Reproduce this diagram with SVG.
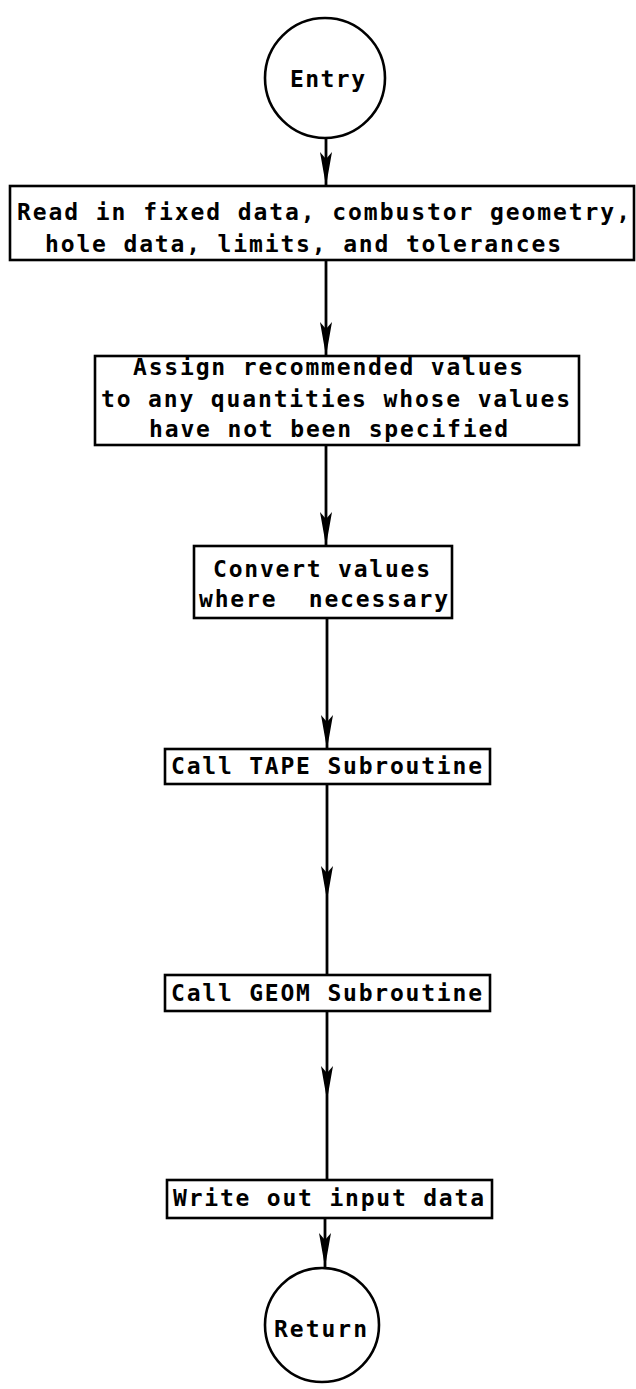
<svg xmlns="http://www.w3.org/2000/svg" width="636" height="1389" viewBox="0 0 636 1389">
  <style>
    .shape { fill: #ffffff; stroke: #000000; stroke-width: 2.6; }
    .wire { fill: none; stroke: #000000; stroke-width: 2.8; }
    .label { font-family: "DejaVu Sans Mono", "Liberation Mono", monospace; font-weight: bold; font-size: 23px; fill: #000000; }
  </style>
  <defs>
    <!-- long, narrow flow arrowhead -->
    <marker id="arrow" markerUnits="userSpaceOnUse" markerWidth="34" markerHeight="12" viewBox="0 0 34 12" refX="34" refY="6" orient="auto">
      <path d="M0,0 L34,6 L0,12 L7,6 z" fill="#000000"/>
    </marker>
  </defs>
  <rect width="636" height="1389" fill="#ffffff"/>

  <!-- connectors -->
  <g id="connectors">
    <line class="wire" x1="326" y1="139" x2="326" y2="186" marker-end="url(#arrow)"/>
    <line class="wire" x1="326" y1="260" x2="326" y2="356" marker-end="url(#arrow)"/>
    <line class="wire" x1="326" y1="445" x2="326" y2="546" marker-end="url(#arrow)"/>
    <line class="wire" x1="327" y1="618" x2="327" y2="749" marker-end="url(#arrow)"/>
    <line class="wire" x1="327" y1="784" x2="327" y2="900" marker-end="url(#arrow)"/>
    <line class="wire" x1="327" y1="900" x2="327" y2="975"/>
    <line class="wire" x1="327" y1="1011" x2="327" y2="1100" marker-end="url(#arrow)"/>
    <line class="wire" x1="327" y1="1100" x2="327" y2="1180"/>
    <line class="wire" x1="325" y1="1218" x2="325" y2="1267" marker-end="url(#arrow)"/>
  </g>

  <g id="entry">
    <circle class="shape" cx="325" cy="78" r="60"/>
    <text class="label" x="290" y="87" textLength="75" lengthAdjust="spacing">Entry</text>
  </g>

  <g id="read-input">
    <rect class="shape" x="10" y="186" width="624" height="74"/>
    <text class="label" x="17" y="220" textLength="613" lengthAdjust="spacing">Read in fixed data, combustor geometry,</text>
    <text class="label" x="45" y="252" textLength="516" lengthAdjust="spacing">hole data, limits, and tolerances</text>
  </g>

  <g id="assign-defaults">
    <rect class="shape" x="95" y="356" width="484" height="89"/>
    <text class="label" x="133" y="375" textLength="390" lengthAdjust="spacing">Assign recommended values</text>
    <text class="label" x="101" y="407" textLength="469" lengthAdjust="spacing">to any quantities whose values</text>
    <text class="label" x="149" y="437" textLength="359" lengthAdjust="spacing">have not been specified</text>
  </g>

  <g id="convert-values">
    <rect class="shape" x="194" y="546" width="258" height="72"/>
    <text class="label" x="213" y="577" textLength="217" lengthAdjust="spacing">Convert values</text>
    <text class="label" x="199" y="607" textLength="249" lengthAdjust="spacing" xml:space="preserve">where  necessary</text>
  </g>

  <g id="call-tape">
    <rect class="shape" x="165" y="749" width="325" height="35"/>
    <text class="label" x="171" y="774" textLength="311" lengthAdjust="spacing">Call TAPE Subroutine</text>
  </g>

  <g id="call-geom">
    <rect class="shape" x="165" y="975" width="325" height="36"/>
    <text class="label" x="171" y="1001" textLength="311" lengthAdjust="spacing">Call GEOM Subroutine</text>
  </g>

  <g id="write-output">
    <rect class="shape" x="167" y="1180" width="325" height="38"/>
    <text class="label" x="173" y="1206" textLength="311" lengthAdjust="spacing">Write out input data</text>
  </g>

  <g id="return">
    <circle class="shape" cx="322" cy="1325" r="57"/>
    <text class="label" x="274" y="1337" textLength="93" lengthAdjust="spacing">Return</text>
  </g>
</svg>
